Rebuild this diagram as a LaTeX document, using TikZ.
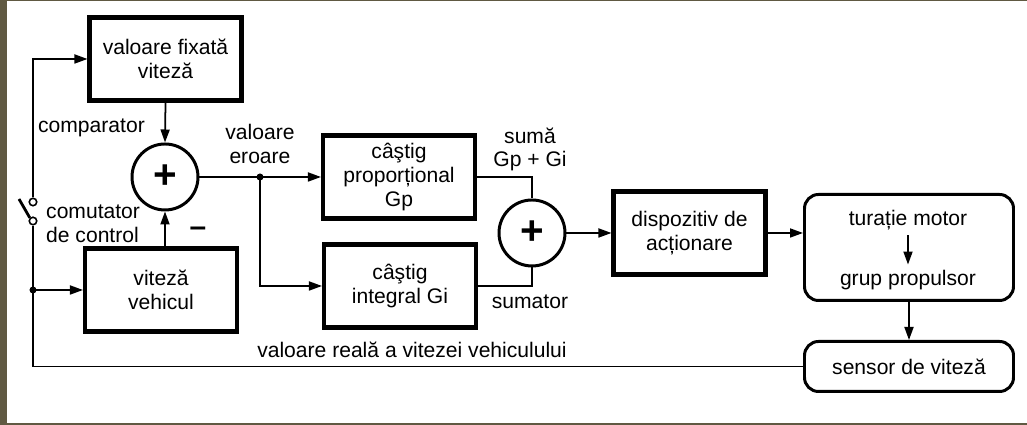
\documentclass[tikz,border=0pt]{standalone}
\usepackage{fontspec}
\setmainfont{Liberation Sans}
\usetikzlibrary{arrows.meta}

\definecolor{frameolive}{RGB}{96,89,66}

\begin{document}
\begin{tikzpicture}[
        >={Triangle[length=2.6mm,width=1.8mm]},
        every node/.style={font=\fontsize{12}{13.5}\selectfont},
        thickbox/.style={draw, line width=2.3pt, align=center, minimum width=3.04cm, minimum height=1.66cm},
        roundbox/.style={draw, line width=1.7pt, rounded corners=0.28cm, minimum width=4.18cm},
        sumnode/.style={draw, circle, line width=1.7pt, minimum size=1.32cm, inner sep=0pt, font=\fontsize{23}{23}\selectfont\bfseries},
        contact/.style={draw, circle, line width=0.9pt, fill=white, inner sep=0pt, minimum size=0.15cm},
        wire/.style={line width=1pt}
    ]
        % Frame
        \useasboundingbox (0,0) rectangle (20.54,8.5);
        \fill[frameolive] (0,0) rectangle (0.14,8.5);
        \fill[frameolive] (0,8.47) rectangle (20.54,8.5);
        \fill[frameolive] (0,0) rectangle (20.54,0.04);
        % Blocks
        \node[thickbox] (fixed) at (3.31,7.32) {valoare fixată\\viteză};
        \node[sumnode] (comp) at (3.30,4.96) {+};
        \node[thickbox] (veh) at (3.22,2.70) {viteză\\vehicul};
        \node[thickbox] (prop) at (7.98,4.96) {câştig\\proporțional\\Gp};
        \node[thickbox] (integ) at (8.0,2.78) {câştig\\integral Gi};
        \node[sumnode] (sum) at (10.64,3.84) {+};
        \node[thickbox] (act) at (13.79,3.84) {dispozitiv de\\acționare};
        \node[roundbox, minimum height=2.12cm] (eng) at (18.18,3.55) {};
        \node[inner sep=3pt] (tm) at (18.16,4.10) {turație motor};
        \node[inner sep=3pt] (gp) at (18.16,2.90) {grup propulsor};
        \node[roundbox, minimum height=1.0cm] (sens) at (18.18,1.17) {sensor de viteză};
        % Switch
        \node[contact] (swtop) at (0.66,4.46) {};
        \node[contact] (swbot) at (0.66,4.08) {};
        \coordinate (blade) at (0.38,4.52);
        \draw[line width=1.6pt] (swbot.north west) -- (blade);
        % Connectors
        \draw[wire,->] (swtop.north) |- (fixed.west);
        \draw[wire,->] (fixed.south) -- (comp.north);
        \draw[wire,->] (veh.north -| comp.south) -- (comp.south);
        \coordinate (fb) at (swbot |- veh.west);
        \draw[wire] (swbot.south) -- (fb);
        \draw[wire,->] (fb) -- (veh.west);
        \draw[wire] (fb) |- (sens.west);
        \fill (fb) circle (0.07);
        \coordinate (err) at (5.2,4.96);
        \draw[wire,->] (comp.east) -- (prop.west);
        \draw[wire,->] (err) |- (integ.west);
        \fill (err) circle (0.07);
        \draw[wire] (prop.east) -| (sum.north);
        \draw[wire] (integ.east) -| (sum.south);
        \draw[wire,->] (sum.east) -- (act.west);
        \draw[wire,->] (act.east) -- (act.east -| eng.west);
        \draw[wire,->] (tm.south) -- (gp.north);
        \draw[wire,->] (eng.south) -- (sens.north);
        % Labels
        \node[anchor=east] (lcomp) at (3.02,5.94) {comparator};
        \node[align=left, anchor=west] (lsw) at (0.80,4.03) {comutator\\de control};
        \node[font=\fontsize{17}{17}\selectfont\bfseries] (minus) at (3.96,3.86) {--};
        \node[align=center] (lerr) at (5.2,5.62) {valoare\\eroare};
        \node[align=center] (lsum) at (10.6,5.51) {sumă\\Gp + Gi};
        \node (lsumator) at (10.6,2.46) {sumator};
        \node (lreal) at (8.24,1.50) {valoare reală a vitezei vehiculului};
    \end{tikzpicture}
\end{document}
